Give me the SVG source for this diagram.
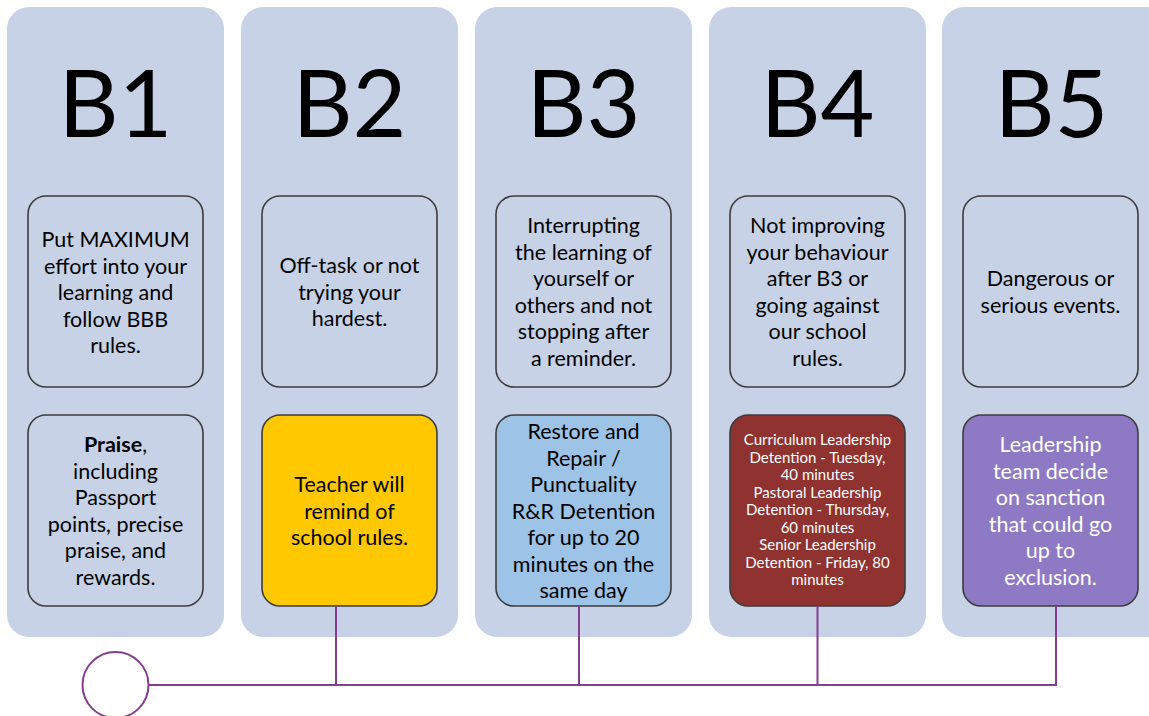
<svg xmlns="http://www.w3.org/2000/svg" width="1149" height="716" viewBox="0 0 1149 716">
<style>
.panel{fill:#C8D2E6}
.box{stroke:#3C3C3C;stroke-width:1.6}
.plain{fill:#C8D2E6}
.title{font-family:Lato,"Liberation Sans",sans-serif;font-size:93px;fill:#000;text-anchor:middle}
.t{font-family:Lato,"Liberation Sans",sans-serif;font-size:21.5px;fill:#000;text-anchor:middle}
.w{fill:#fff}
.s{font-family:Lato,"Liberation Sans",sans-serif;font-size:15px;fill:#fff;text-anchor:middle}
.conn{stroke:#853D8E;stroke-width:2;fill:none}
</style>
<rect width="1149" height="716" fill="#fff"/>
<g id="B1">
<rect class="panel" x="7" y="7" width="217" height="630" rx="22"/>
<text class="title" x="115.5" y="137">B1</text>
<rect class="box plain" x="28" y="196" width="175" height="191" rx="18"/>
<text class="t" x="115.5" y="247">Put MAXIMUM</text>
<text class="t" x="115.5" y="273.5">effort into your</text>
<text class="t" x="115.5" y="300">learning and</text>
<text class="t" x="115.5" y="326.5">follow BBB</text>
<text class="t" x="115.5" y="353">rules.</text>
<rect class="box plain" x="28" y="415" width="175" height="191" rx="18"/>
<text class="t" x="115.5" y="452"><tspan font-weight="bold">Praise</tspan>,</text>
<text class="t" x="115.5" y="478.5">including</text>
<text class="t" x="115.5" y="505">Passport</text>
<text class="t" x="115.5" y="531.5">points, precise</text>
<text class="t" x="115.5" y="558">praise, and</text>
<text class="t" x="115.5" y="584.5">rewards.</text>
</g>
<g id="B2">
<rect class="panel" x="241" y="7" width="217" height="630" rx="22"/>
<text class="title" x="349.5" y="137">B2</text>
<rect class="box plain" x="262" y="196" width="175" height="191" rx="18"/>
<text class="t" x="349.5" y="273">Off-task or not</text>
<text class="t" x="349.5" y="299.5">trying your</text>
<text class="t" x="349.5" y="326">hardest.</text>
<rect class="box" fill="#FFC800" x="262" y="415" width="175" height="191" rx="18"/>
<text class="t" x="349.5" y="492">Teacher will</text>
<text class="t" x="349.5" y="518.5">remind of</text>
<text class="t" x="349.5" y="545">school rules.</text>
</g>
<g id="B3">
<rect class="panel" x="475" y="7" width="217" height="630" rx="22"/>
<text class="title" x="583.5" y="137">B3</text>
<rect class="box plain" x="496" y="196" width="175" height="191" rx="18"/>
<text class="t" x="583.5" y="233">Interrupting</text>
<text class="t" x="583.5" y="259.5">the learning of</text>
<text class="t" x="583.5" y="286">yourself or</text>
<text class="t" x="583.5" y="312.5">others and not</text>
<text class="t" x="583.5" y="339">stopping after</text>
<text class="t" x="583.5" y="365.5">a reminder.</text>
<rect class="box" fill="#9DC3E6" x="496" y="415" width="175" height="191" rx="18"/>
<text class="t" x="583.5" y="439">Restore and</text>
<text class="t" x="583.5" y="465.5">Repair /</text>
<text class="t" x="583.5" y="492">Punctuality</text>
<text class="t" x="583.5" y="518.5">R&amp;R Detention</text>
<text class="t" x="583.5" y="545">for up to 20</text>
<text class="t" x="583.5" y="571.5">minutes on the</text>
<text class="t" x="583.5" y="598">same day</text>
</g>
<g id="B4">
<rect class="panel" x="709" y="7" width="217" height="630" rx="22"/>
<text class="title" x="817.5" y="137">B4</text>
<rect class="box plain" x="730" y="196" width="175" height="191" rx="18"/>
<text class="t" x="817.5" y="233">Not improving</text>
<text class="t" x="817.5" y="259.5">your behaviour</text>
<text class="t" x="817.5" y="286">after B3 or</text>
<text class="t" x="817.5" y="312.5">going against</text>
<text class="t" x="817.5" y="339">our school</text>
<text class="t" x="817.5" y="365.5">rules.</text>
<rect class="box" fill="#903230" x="730" y="415" width="175" height="191" rx="18"/>
<text class="s" x="817.5" y="445">Curriculum Leadership</text>
<text class="s" x="817.5" y="462.5">Detention - Tuesday,</text>
<text class="s" x="817.5" y="480">40 minutes</text>
<text class="s" x="817.5" y="497.5">Pastoral Leadership</text>
<text class="s" x="817.5" y="515">Detention - Thursday,</text>
<text class="s" x="817.5" y="532.5">60 minutes</text>
<text class="s" x="817.5" y="550">Senior Leadership</text>
<text class="s" x="817.5" y="567.5">Detention - Friday, 80</text>
<text class="s" x="817.5" y="585">minutes</text>
</g>
<g id="B5">
<rect class="panel" x="942" y="7" width="240" height="630" rx="22"/>
<text class="title" x="1051.5" y="137">B5</text>
<rect class="box plain" x="963" y="196" width="175" height="191" rx="18"/>
<text class="t" x="1050.5" y="286">Dangerous or</text>
<text class="t" x="1050.5" y="312.5">serious events.</text>
<rect class="box" fill="#8E7AC4" x="963" y="415" width="175" height="191" rx="18"/>
<text class="t w" x="1050.5" y="452">Leadership</text>
<text class="t w" x="1050.5" y="478.5">team decide</text>
<text class="t w" x="1050.5" y="505">on sanction</text>
<text class="t w" x="1050.5" y="531.5">that could go</text>
<text class="t w" x="1050.5" y="558">up to</text>
<text class="t w" x="1050.5" y="584.5">exclusion.</text>
</g>
<g id="connectors">
<circle class="conn" cx="115.5" cy="685" r="33" fill="#fff"/>
<polyline class="conn" points="148.5,685 1056,685 1056,606"/>
<line class="conn" x1="336" y1="606" x2="336" y2="685"/>
<line class="conn" x1="579" y1="606" x2="579" y2="685"/>
<line class="conn" x1="817.5" y1="606" x2="817.5" y2="685"/>
</g>
</svg>
